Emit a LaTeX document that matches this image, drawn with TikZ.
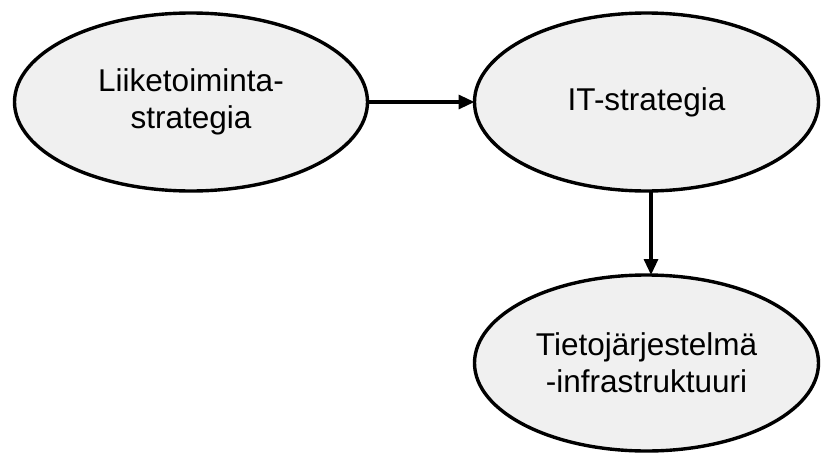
\documentclass[tikz,border=0pt]{standalone}
\usepackage{fontspec}
\setmainfont{Liberation Sans}
\usetikzlibrary{shapes.geometric,arrows.meta}
\definecolor{bubblefill}{RGB}{240,240,240}
\begin{document}
\begin{tikzpicture}[x=1pt,y=-1pt,
  bubble/.style={ellipse,draw=black,line width=3.4pt,fill=bubblefill,
    inner sep=0pt,outer sep=0pt,align=center,
    font=\fontsize{31.5}{37}\selectfont},
  link/.style={line width=3.2pt,-{Triangle[length=16pt,width=14pt]}}]
  \useasboundingbox (0,0) rectangle (821,455);
  \node[bubble,minimum width=353pt,minimum height=178pt] (biz) at (191,102)
    {Liiketoiminta-\\strategia};
  \node[bubble,minimum width=344pt,minimum height=178pt] (it) at (646.5,102)
    {IT-strategia};
  \node[bubble,minimum width=344pt,minimum height=176pt] (infra) at (646.5,363)
    {Tietojärjestelmä\\-infrastruktuuri};
  \draw[link] (biz.east) -- (it.west);
  \draw[link] ([xshift=4.5pt]it.south) -- ([xshift=4.5pt]infra.north);
\end{tikzpicture}
\end{document}
